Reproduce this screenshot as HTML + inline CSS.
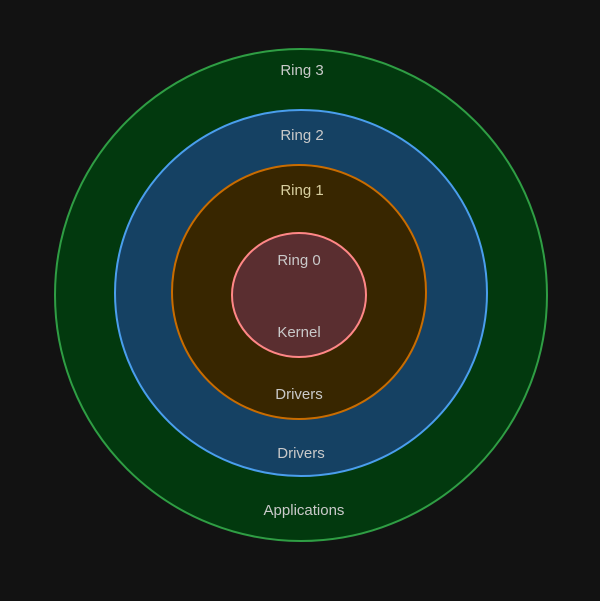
<!DOCTYPE html>
<html><head><style>html,body{margin:0;padding:0;background:#121212;}svg{display:block}</style></head>
<body>
<svg width="600" height="601" viewBox="0 0 600 601" xmlns="http://www.w3.org/2000/svg" font-family="Liberation Sans, sans-serif" font-size="15">
<rect width="600" height="601" fill="#121212"/>
<ellipse cx="301" cy="295" rx="246" ry="246" fill="#02390e" stroke="#2f9e44" stroke-width="2"/>
<ellipse cx="301" cy="293" rx="186" ry="183" fill="#154163" stroke="#4a9eed" stroke-width="2"/>
<ellipse cx="299" cy="292" rx="127" ry="127" fill="#382600" stroke="#c96c00" stroke-width="2"/>
<ellipse cx="299" cy="295" rx="67" ry="62" fill="#5a2e30" stroke="#ff8787" stroke-width="2"/>
<g fill="#c9c9c9" text-anchor="middle">
<text x="302" y="75">Ring 3</text>
<text x="302" y="140">Ring 2</text>
<text x="302" y="195" fill="#d8cfa0">Ring 1</text>
<text x="299" y="265">Ring 0</text>
<text x="299" y="337">Kernel</text>
<text x="299" y="399">Drivers</text>
<text x="301" y="458">Drivers</text>
<text x="304" y="515">Applications</text>
</g>
</svg>
</body></html>
